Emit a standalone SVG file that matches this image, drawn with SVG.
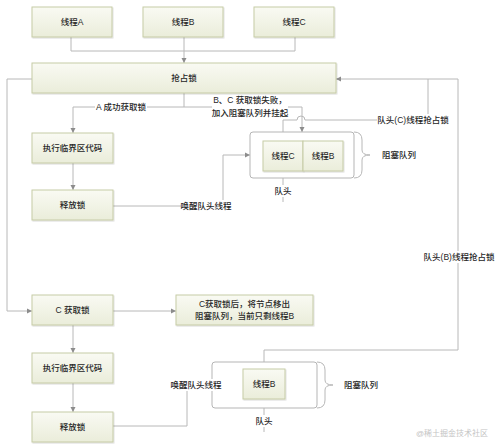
<svg xmlns="http://www.w3.org/2000/svg" width="500" height="446" viewBox="0 0 500 446">
<style>
text{font-family:"Liberation Sans","Noto Sans CJK SC",sans-serif;font-size:8.5px;font-weight:500;fill:#262626;text-anchor:middle;dominant-baseline:central}
.box{fill:url(#g);stroke:#c6cba6;stroke-width:1}
.q{fill:#fff;stroke:#b5b5b5;stroke-width:1}
.ln{fill:none;stroke:#b8b8b8;stroke-width:1}
.bg{fill:#fff}
.wm{fill:#c4c4c4;font-size:8px;font-weight:400}
</style>
<defs>
<linearGradient id="g" x1="0" y1="0" x2="0" y2="1">
<stop offset="0" stop-color="#f9faf3"/>
<stop offset="1" stop-color="#eaedda"/>
</linearGradient>
<filter id="sh" x="-10%" y="-10%" width="120%" height="130%">
<feDropShadow dx="0.8" dy="1" stdDeviation="0.6" flood-color="#000" flood-opacity="0.15"/>
</filter>
<marker id="ar" markerUnits="userSpaceOnUse" markerWidth="6" markerHeight="6" refX="5" refY="3" orient="auto">
<path d="M0,0.5 L5,3 L0,5.5 z" fill="#8c8c8c"/>
</marker>
</defs>

<g id="connectors">
<path class="ln" d="M71,37 V51 H295 V37"/>
<path class="ln" d="M184,37 V63" marker-end="url(#ar)"/>
<path class="ln" d="M184,93 V107 H73 V133" marker-end="url(#ar)"/>
<path class="ln" d="M184,107 H302 V132" marker-end="url(#ar)"/>
<path class="ln" d="M73,163 V190" marker-end="url(#ar)"/>
<path class="ln" d="M113,206 H223 V155 H250" marker-end="url(#ar)"/>
<path class="ln" d="M283,202 V171" marker-end="url(#ar)"/>
<path class="ln" d="M283,141 V120 H297 A4,4 0 0 1 305,120 H428 V79"/>
<path class="ln" d="M264,362 V350 H458 V79 H336" marker-end="url(#ar)"/>
<path class="ln" d="M32,79 H7 V311 H32" marker-end="url(#ar)"/>
<path class="ln" d="M113,311 H176" marker-end="url(#ar)"/>
<path class="ln" d="M73,325 V353" marker-end="url(#ar)"/>
<path class="ln" d="M73,383 V412" marker-end="url(#ar)"/>
<path class="ln" d="M113,426 H187 V390"/>
<path class="ln" d="M264,432 V399" marker-end="url(#ar)"/>
</g>

<g id="queue1">
<rect class="q" x="250" y="132" width="104" height="46" rx="3"/>
<path class="ln" d="M354,132 Q362,132 362,140 V150 Q362,155 370,155 Q362,155 362,160 V170 Q362,178 354,178"/>
<text x="399" y="155">阻塞队列</text>
</g>
<g id="queue2">
<rect class="q" x="212" y="362" width="105" height="46" rx="3"/>
<path class="ln" d="M317,362 Q325,362 325,370 V380 Q325,385 333,385 Q325,385 325,390 V400 Q325,408 317,408"/>
<text x="361" y="385">阻塞队列</text>
</g>

<g id="labels">
<rect class="bg" x="95" y="101" width="52" height="12"/>
<text x="121" y="107">A 成功获取锁</text>
<rect class="bg" x="212" y="94" width="76" height="25"/>
<text x="250" y="100">B、C 获取锁失败，</text>
<text x="250" y="113">加入阻塞队列并挂起</text>
<rect class="bg" x="377" y="114" width="72" height="12"/>
<text x="413" y="120">队头(C)线程抢占锁</text>
<rect class="bg" x="181" y="200" width="50" height="12"/>
<text x="206" y="206">唤醒队头线程</text>
<rect class="bg" x="274" y="185" width="18" height="12"/>
<text x="283" y="191">队头</text>
<rect class="bg" x="425" y="251" width="68" height="12"/>
<text x="459" y="257">队头(B)线程抢占锁</text>
<rect class="bg" x="171" y="379" width="50" height="12"/>
<text x="196" y="385">唤醒队头线程</text>
<rect class="bg" x="255" y="415" width="18" height="12"/>
<text x="264" y="421">队头</text>
<text class="wm" x="452" y="433">@稀土掘金技术社区</text>
</g>

<g id="threadA"><rect class="box" filter="url(#sh)" x="32" y="7" width="80" height="30"/><text x="72" y="22">线程A</text></g>
<g id="threadB"><rect class="box" filter="url(#sh)" x="143" y="7" width="80" height="30"/><text x="183" y="22">线程B</text></g>
<g id="threadC"><rect class="box" filter="url(#sh)" x="254" y="7" width="80" height="30"/><text x="294" y="22">线程C</text></g>
<g id="grab"><rect class="box" filter="url(#sh)" x="32" y="63" width="304" height="30"/><text x="184" y="78">抢占锁</text></g>
<g id="exec1"><rect class="box" filter="url(#sh)" x="32" y="133" width="81" height="30"/><text x="72.5" y="148">执行临界区代码</text></g>
<g id="release1"><rect class="box" filter="url(#sh)" x="32" y="190" width="81" height="30"/><text x="72.5" y="205">释放锁</text></g>
<g id="qC"><rect class="box" filter="url(#sh)" x="263" y="141" width="40" height="30"/><text x="283" y="156">线程C</text></g>
<g id="qB"><rect class="box" filter="url(#sh)" x="303" y="141" width="40" height="30"/><text x="323" y="156">线程B</text></g>
<g id="cget"><rect class="box" filter="url(#sh)" x="32" y="295" width="81" height="30"/><text x="72.5" y="310">C 获取锁</text></g>
<g id="note"><rect class="box" filter="url(#sh)" x="176" y="295" width="137" height="30"/><text x="244.5" y="304">C获取锁后，将节点移出</text><text x="244.5" y="316">阻塞队列，当前只剩线程B</text></g>
<g id="exec2"><rect class="box" filter="url(#sh)" x="32" y="353" width="81" height="30"/><text x="72.5" y="368">执行临界区代码</text></g>
<g id="release2"><rect class="box" filter="url(#sh)" x="32" y="412" width="81" height="30"/><text x="72.5" y="427">释放锁</text></g>
<g id="qB2"><rect class="box" filter="url(#sh)" x="243" y="369" width="42" height="30"/><text x="264" y="384">线程B</text></g>
</svg>
